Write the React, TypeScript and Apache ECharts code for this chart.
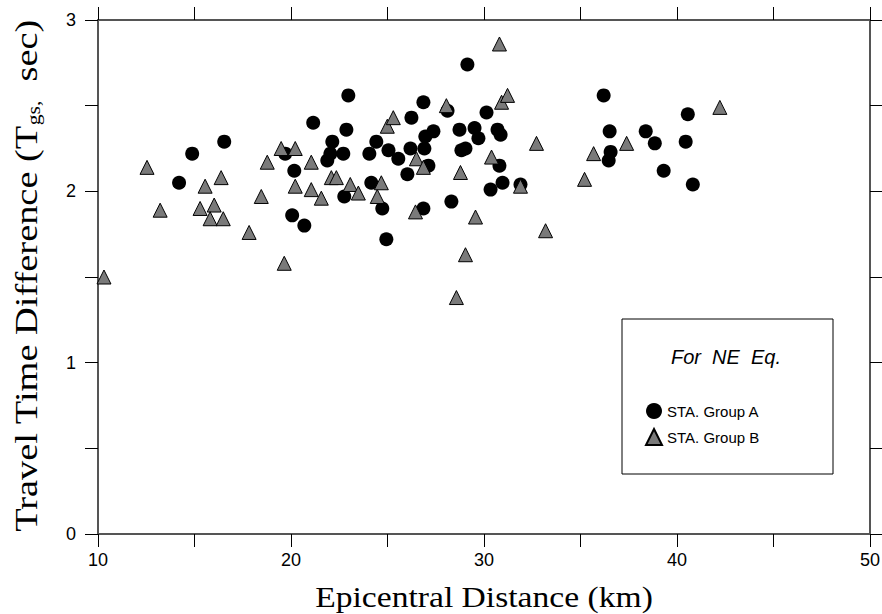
import React, { useEffect, useRef } from "react";
import * as echarts from "echarts";

// Group A (circles): [epicentral distance km, travel time difference sec]
const groupA: [number, number][] = [
  [14.2, 2.05], [14.88, 2.22], [16.54, 2.29], [19.7, 2.22], [20.17, 2.12],
  [20.06, 1.86], [20.69, 1.8], [21.15, 2.4], [22.97, 2.56], [22.87, 2.36],
  [22.14, 2.29], [22.04, 2.22], [21.88, 2.18], [22.71, 2.22], [22.76, 1.97],
  [24.42, 2.29], [24.06, 2.22], [24.16, 2.05], [25.05, 2.24], [25.56, 2.19],
  [24.73, 1.9], [24.94, 1.72], [26.24, 2.43], [26.19, 2.25], [26.03, 2.1],
  [26.86, 2.52], [26.96, 2.32], [26.91, 2.25], [27.12, 2.15], [27.38, 2.35],
  [26.86, 1.9], [28.11, 2.47], [28.31, 1.94], [28.73, 2.36], [28.83, 2.24],
  [29.04, 2.25], [29.14, 2.74], [29.51, 2.37], [29.71, 2.31], [30.13, 2.46],
  [30.86, 2.33], [30.7, 2.36], [30.8, 2.15], [30.96, 2.05], [30.34, 2.01],
  [31.89, 2.04], [36.2, 2.56], [36.51, 2.35], [36.56, 2.23], [36.46, 2.18],
  [38.38, 2.35], [38.85, 2.28], [39.31, 2.12], [40.45, 2.29], [40.56, 2.45],
  [40.82, 2.04],
];

// Group B (triangles)
const groupB: [number, number][] = [
  [10.31, 1.5], [12.54, 2.14], [13.22, 1.89], [15.55, 2.03], [15.29, 1.9],
  [16.02, 1.92], [15.81, 1.84], [16.49, 1.84], [16.38, 2.08], [17.83, 1.76],
  [18.46, 1.97], [18.77, 2.17], [19.65, 1.58], [19.49, 2.25], [20.22, 2.25],
  [20.22, 2.03], [21.05, 2.17], [21.05, 2.01], [21.57, 1.96], [22.09, 2.08],
  [22.35, 2.08], [23.07, 2.04], [23.49, 1.99], [24.47, 1.97], [24.68, 2.05],
  [24.99, 2.38], [25.3, 2.43], [26.5, 2.19], [26.86, 2.14], [26.45, 1.88],
  [28.05, 2.5], [28.78, 2.11], [28.57, 1.38], [29.04, 1.63], [29.56, 1.85],
  [30.39, 2.2], [30.8, 2.86], [30.91, 2.52], [31.22, 2.56], [31.89, 2.03],
  [32.72, 2.28], [33.19, 1.77], [35.21, 2.07], [35.68, 2.22], [37.39, 2.28],
  [42.22, 2.49],
];

// axis ranges: ticks every `tick`, labels every `label`
const xRange = { min: 10, max: 50, tick: 5, label: 10 };
const yRange = { min: 0, max: 3, tick: 0.5, label: 1 };
const seriesNames = ["STA. Group A", "STA. Group B"];
const legendTitle = "For  NE  Eq.";
const xTitle = "Epicentral Distance (km)";
const yTitle = "Travel Time Difference (T{sub|gs,}  sec)";

const SANS = "'Liberation Sans', Arial, sans-serif";
const SERIF = "'Liberation Serif', 'Times New Roman', serif";

export default function App() {
  const ref = useRef<HTMLDivElement>(null);

  useEffect(() => {
    if (!ref.current) return;
    const chart = echarts.init(ref.current, undefined, { renderer: "svg" });

    const axisLine = { show: true, onZero: false, lineStyle: { color: "#555", width: 2 } };
    const axisTick = { show: true, inside: false, length: 13, lineStyle: { color: "#000", width: 1 } };
    const axisLabel = { color: "#000", fontSize: 18, fontFamily: SANS };

    const xCommon = {
      type: "value" as const,
      min: xRange.min,
      max: xRange.max,
      interval: xRange.tick,
      splitLine: { show: false },
      axisLine,
      axisTick,
    };
    const yCommon = {
      type: "value" as const,
      min: yRange.min,
      max: yRange.max,
      interval: yRange.tick,
      splitLine: { show: false },
      axisLine,
      axisTick,
    };

    chart.setOption({
      animation: false,
      backgroundColor: "#fff",
      grid: { left: 98, right: 12, top: 20, bottom: 80, outerBoundsMode: "none" },
      xAxis: [
        {
          ...xCommon,
          position: "bottom",
          axisLabel: {
            ...axisLabel,
            margin: 17,
            formatter: (v: number) => (v % xRange.label === 0 ? String(v) : ""),
          },
        },
        { ...xCommon, position: "top", axisLabel: { show: false } },
      ],
      yAxis: [
        {
          ...yCommon,
          position: "left",
          axisLabel: {
            ...axisLabel,
            margin: 22,
            formatter: (v: number) => (Math.abs(v % yRange.label) < 1e-9 ? String(v) : ""),
          },
        },
        { ...yCommon, position: "right", axisLabel: { show: false } },
      ],
      legend: {
        orient: "vertical",
        left: 640,
        top: 398,
        itemWidth: 16,
        itemHeight: 16,
        itemGap: 9,
        textStyle: { color: "#000", fontSize: 15, fontFamily: SANS },
        data: seriesNames,
      },
      graphic: [
        {
          type: "rect",
          shape: { x: 622, y: 319, width: 211, height: 155 },
          style: { fill: "none", stroke: "#000", lineWidth: 1 },
          z: 1,
        },
        {
          type: "text",
          x: 726,
          y: 357,
          style: {
            text: legendTitle,
            fontSize: 20,
            fontStyle: "italic",
            fontFamily: SANS,
            fill: "#000",
            align: "center",
            verticalAlign: "middle",
          },
        },
        {
          type: "text",
          x: 484,
          y: 597,
          scaleX: 1.12,
          style: {
            text: xTitle,
            fontSize: 30,
            fontFamily: SERIF,
            fill: "#000",
            align: "center",
            verticalAlign: "middle",
          },
        },
        {
          type: "text",
          x: 27,
          y: 276,
          rotation: Math.PI / 2,
          scaleX: 1.2,
          style: {
            text: yTitle,
            fontSize: 32,
            fontFamily: SERIF,
            fill: "#000",
            align: "center",
            verticalAlign: "middle",
            rich: {
              sub: { fontSize: 18, fontFamily: SERIF, fill: "#000", verticalAlign: "bottom" },
            },
          },
        },
      ],
      series: [
        {
          name: seriesNames[0],
          type: "scatter",
          symbol: "circle",
          symbolSize: 14,
          itemStyle: { color: "#000", opacity: 1 },
          data: groupA,
          z: 2,
        },
        {
          name: seriesNames[1],
          type: "scatter",
          symbol: "triangle",
          symbolSize: 14,
          itemStyle: { color: "#7a7a7a", borderColor: "#000", borderWidth: 1, opacity: 1 },
          data: groupB,
          z: 3,
        },
      ],
    });

    return () => chart.dispose();
  }, []);

  return (
    <div
      ref={ref}
      style={{ position: "fixed", left: 0, top: 0, width: 882, height: 614 }}
    />
  );
}
